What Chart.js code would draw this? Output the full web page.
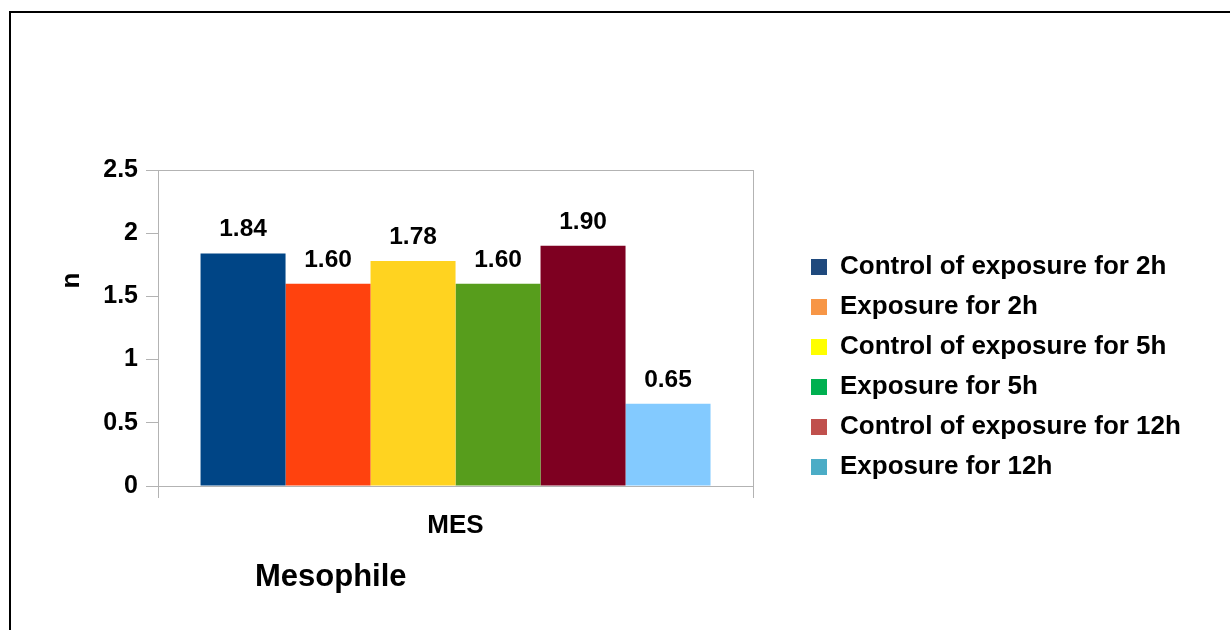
<!DOCTYPE html>
<html>
<head>
<meta charset="utf-8">
<title>Mesophile</title>
<script src="https://cdn.jsdelivr.net/npm/chart.js@4/dist/chart.umd.min.js"></script>
<style>
  html, body { margin: 0; padding: 0; background: #ffffff; }
  #wrap { position: relative; width: 1230px; height: 630px; overflow: hidden; background: #ffffff; }
  #chart { position: absolute; left: 0; top: 0; }
  #frame {
    position: absolute; left: 9px; top: 11px; width: 1400px; height: 800px;
    border-top: 2px solid #000000; border-left: 2px solid #000000;
    pointer-events: none;
  }
</style>
</head>
<body>
<div id="wrap">
  <canvas id="chart" width="1230" height="630"></canvas>
  <div id="frame"></div>
</div>
<script>
// Category and series
const categories = ['MES'];
const seriesNames = [
  'Control of exposure for 2h',
  'Exposure for 2h',
  'Control of exposure for 5h',
  'Exposure for 5h',
  'Control of exposure for 12h',
  'Exposure for 12h'
];
const seriesValues = [1.84, 1.60, 1.78, 1.60, 1.90, 0.65];

// Value axis
const yMin = 0;
const yMax = 2.5;
const yStep = 0.5;

// Titles
const xTitle = 'Mesophile';
const yTitle = 'n';

// Bar fills and legend swatches
const barColors = ['#004586', '#FF420E', '#FFD320', '#579D1C', '#7E0021', '#83CAFF'];
const legendColors = ['#1F497D', '#F79646', '#FFFF00', '#00B050', '#C0504D', '#4BACC6'];

const FONT = "'Liberation Sans', Arial, Helvetica, sans-serif";
const AXIS_GREY = '#b3b3b3';

Chart.defaults.font.family = FONT;
Chart.defaults.color = '#000000';

// Value labels above each bar
const valueLabels = {
  id: 'valueLabels',
  afterDatasetsDraw(chart) {
    const ctx = chart.ctx;
    ctx.save();
    ctx.font = 'bold 24.5px ' + FONT;
    ctx.fillStyle = '#000000';
    ctx.textAlign = 'center';
    ctx.textBaseline = 'alphabetic';
    chart.data.datasets.forEach((ds, i) => {
      const meta = chart.getDatasetMeta(i);
      meta.data.forEach((bar, j) => {
        ctx.fillText(Number(ds.data[j]).toFixed(2), bar.x, bar.y - 17);
      });
    });
    ctx.restore();
  }
};

// Place the title blocks and legend after the layout has sized the plot area
const placeBlocks = {
  id: 'placeBlocks',
  afterLayout(chart) {
    const lg = chart.legend;
    if (lg) { lg.left = 797; lg.right = 1230; lg.top = 240; lg.bottom = 630; }
    const tb = chart.titleBlock;
    if (tb) { tb.left = 255; tb.right = 760; }
    chart.boxes.forEach(b => {
      if (b !== tb && b.options && b.options.text === yTitle && b.options.position === 'left') {
        b.left = 59; b.right = 85; b.top = 240; b.bottom = 321;
      }
    });
  }
};

const datasets = seriesNames.map((name, i) => ({
  label: name,
  data: [seriesValues[i]],
  backgroundColor: barColors[i],
  borderWidth: 0,
  categoryPercentage: 0.857,
  barPercentage: 1.0
}));

new Chart(document.getElementById('chart'), {
  type: 'bar',
  data: { labels: categories, datasets },
  options: {
    responsive: false,
    animation: false,
    layout: { padding: { top: 170, left: 40, right: 83, bottom: 35 } },
    plugins: {
      tooltip: { enabled: false },
      legend: {
        display: true,
        position: 'right',
        align: 'start',
        maxWidth: 600,
        labels: {
          boxWidth: 16,
          boxHeight: 16,
          padding: 14,
          color: '#000000',
          font: { size: 26, weight: 'bold', lineHeight: 1.0 },
          generateLabels(chart) {
            return chart.data.datasets.map((ds, i) => ({
              text: ds.label,
              fillStyle: legendColors[i],
              strokeStyle: legendColors[i],
              lineWidth: 0,
              hidden: false,
              datasetIndex: i
            }));
          }
        }
      },
      title: {
        display: true,
        text: xTitle,
        position: 'bottom',
        align: 'start',
        color: '#000000',
        padding: 0,
        font: { size: 31, weight: 'bold', lineHeight: '36px' }
      },
      subtitle: {
        display: true,
        text: yTitle,
        position: 'left',
        align: 'center',
        color: '#000000',
        padding: 0,
        font: { size: 26, weight: 'bold', lineHeight: 1.0 }
      }
    },
    scales: {
      x: {
        offset: true,
        afterFit(s) { s.height = 73; },
        grid: {
          display: true,
          offset: true,
          drawOnChartArea: true,
          drawTicks: true,
          tickLength: 12,
          color: AXIS_GREY,
          lineWidth: 1
        },
        border: { display: true, color: AXIS_GREY, width: 1 },
        ticks: {
          padding: 12,
          color: '#000000',
          font: { size: 26, weight: 'bold' }
        }
      },
      y: {
        min: yMin,
        max: yMax,
        afterFit(s) { s.width = 92; },
        grid: {
          display: true,
          drawOnChartArea: true,
          drawTicks: true,
          tickLength: 12,
          color: ctx => (ctx.tick && ctx.tick.value === yMax ? AXIS_GREY : 'rgba(0,0,0,0)'),
          tickColor: AXIS_GREY,
          lineWidth: 1
        },
        border: { display: true, color: AXIS_GREY, width: 1 },
        ticks: {
          stepSize: yStep,
          padding: 8,
          color: '#000000',
          font: { size: 25, weight: 'bold' },
          callback: v => String(Number(v.toFixed(2)))
        }
      }
    }
  },
  plugins: [valueLabels, placeBlocks]
});
</script>
</body>
</html>
